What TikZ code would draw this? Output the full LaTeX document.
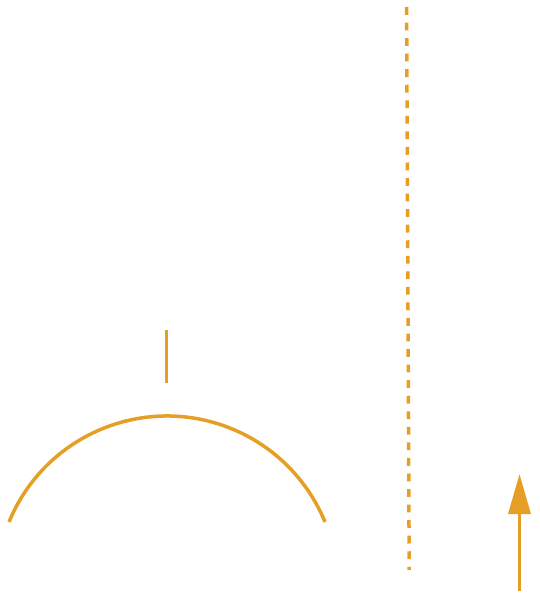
\documentclass[tikz,border=0pt]{standalone}
\usetikzlibrary{arrows.meta}
\definecolor{ochre}{HTML}{E69F25}

\begin{document}
\begin{tikzpicture}[
    x=1pt, y=-1pt,
    >={Triangle[length=40pt, width=22pt]},
    stroke/.style={ochre, line width=3.5pt},
    dashedline/.style={stroke, dash pattern=on 7.8pt off 7.75pt},
    arrowline/.style={stroke, ->}
  ]

  \useasboundingbox (0,0) rectangle (539,600);

  % Points
  \coordinate (tickTop)    at (166.5, 330);
  \coordinate (tickBottom) at (166.5, 383);
  \coordinate (arcCentre)  at (167, 586.75);
  \coordinate (dashTop)    at (406.6, 7);
  \coordinate (dashBottom) at (409.2, 570);
  \coordinate (arrowFoot)  at (519.5, 591);
  \coordinate (arrowTip)   at (519.5, 474);

  % Petit trait vertical
  \draw[stroke] (tickTop) -- (tickBottom);

  % Arc de cercle
  \draw[stroke] ([shift={(202.3:170.75)}]arcCentre) arc[start angle=202.3, end angle=337.7, radius=170.75];

  % Ligne pointillee
  \draw[dashedline] (dashTop) -- (dashBottom);

  % Fleche vers le haut
  \draw[arrowline] (arrowFoot) -- (arrowTip);

\end{tikzpicture}
\end{document}
